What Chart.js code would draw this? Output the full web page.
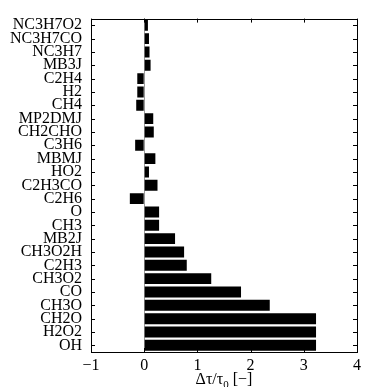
<!DOCTYPE html>
<html><head><meta charset="utf-8">
<script src="https://cdn.jsdelivr.net/npm/chart.js@4/dist/chart.umd.min.js"></script>
<style>html,body{margin:0;padding:0;background:#fff}</style>
</head><body>
<canvas id="c" width="365" height="387"></canvas>
<script>
const species = ['NC3H7O2','NC3H7CO','NC3H7','MB3J','C2H4','H2','CH4','MP2DMJ','CH2CHO','C3H6','MBMJ','HO2','C2H3CO','C2H6','O','CH3','MB2J','CH3O2H','C2H3','CH3O2','CO','CH3O','CH2O','H2O2','OH'];
const deltaTau = [0.07,0.09,0.10,0.12,-0.13,-0.13,-0.15,0.17,0.18,-0.17,0.21,0.09,0.25,-0.27,0.28,0.28,0.58,0.75,0.80,1.26,1.82,2.36,3.23,3.23,3.23];
const xMin = -1, xMax = 4;
const xTitleParts = ['Δτ/τ', '0', ' [−]'];
const FONT = 'Liberation Serif, Times New Roman, serif';

const framePlugin = {
  id: 'frame',
  afterDraw(chart) {
    const {ctx, chartArea: a, scales} = chart;
    ctx.save();
    ctx.strokeStyle = '#000';
    ctx.lineWidth = 1;
    ctx.strokeRect(Math.round(a.left) + 0.5, Math.round(a.top) + 0.5, Math.round(a.right - a.left), Math.round(a.bottom - a.top));
    const tl = 4;
    ctx.beginPath();
    scales.x.ticks.forEach(t => {
      const px = Math.round(scales.x.getPixelForValue(t.value)) + 0.5;
      ctx.moveTo(px, a.bottom); ctx.lineTo(px, a.bottom - tl);
      ctx.moveTo(px, a.top); ctx.lineTo(px, a.top + tl);
    });
    species.forEach((s, i) => {
      const py = Math.round(scales.y.getPixelForValue(i)) + 0.5;
      ctx.moveTo(a.left, py); ctx.lineTo(a.left + tl, py);
      ctx.moveTo(a.right, py); ctx.lineTo(a.right - tl, py);
    });
    ctx.stroke();
    // axis title with subscript
    const big = '16px ' + FONT, small = '11px ' + FONT;
    ctx.fillStyle = '#000';
    ctx.textBaseline = 'alphabetic';
    ctx.font = big; const w0 = ctx.measureText(xTitleParts[0]).width, w2 = ctx.measureText(xTitleParts[2]).width;
    ctx.font = small; const w1 = ctx.measureText(xTitleParts[1]).width;
    let x = (a.left + a.right) / 2 - (w0 + w1 + w2) / 2;
    const base = 384;
    ctx.font = big; ctx.fillText(xTitleParts[0], x, base); x += w0;
    ctx.font = small; ctx.fillText(xTitleParts[1], x, base + 4); x += w1;
    ctx.font = big; ctx.fillText(xTitleParts[2], x, base);
    ctx.restore();
  }
};

new Chart(document.getElementById('c'), {
  type: 'bar',
  data: {
    labels: species,
    datasets: [{
      data: deltaTau,
      backgroundColor: '#000',
      borderWidth: 0,
      barPercentage: 0.82,
      categoryPercentage: 1.0
    }]
  },
  options: {
    indexAxis: 'y',
    responsive: false,
    animation: false,
    devicePixelRatio: 1,
    layout: {padding: {top: 12, right: 3, left: 0, bottom: 0}},
    plugins: {legend: {display: false}, tooltip: {enabled: false}},
    scales: {
      x: {
        type: 'linear', min: xMin, max: xMax,
        ticks: {
          stepSize: 1, color: '#000', padding: 4,
          font: {family: FONT, size: 16},
          callback: v => v < 0 ? '\u2212' + Math.abs(v) : String(v)
        },
        grid: {
          drawTicks: false,
          color: c => (c.tick && c.tick.value === 0) ? '#9a9a9a' : 'rgba(0,0,0,0)',
          lineWidth: 1
        },
        border: {display: false},
        afterFit: s => { s.height = 35; }
      },
      y: {
        type: 'category',
        ticks: {color: '#000', padding: 9, font: {family: FONT, size: 16}, autoSkip: false},
        grid: {display: false, drawTicks: false},
        border: {display: false},
        afterFit: s => { s.width = 91; }
      }
    }
  },
  plugins: [framePlugin]
});
</script>
</body></html>
